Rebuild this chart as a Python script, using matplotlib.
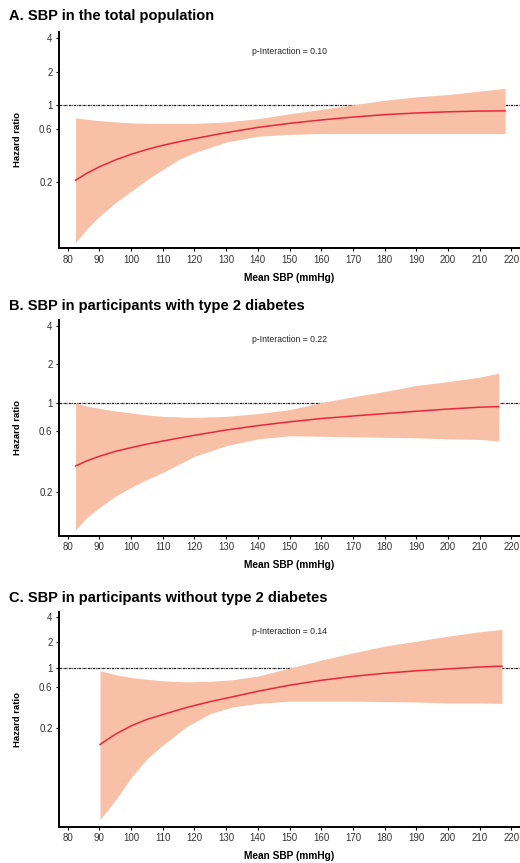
import numpy as np
import matplotlib
matplotlib.use("Agg")
import matplotlib.pyplot as plt

plt.rcParams['font.family'] = ['Liberation Sans', 'DejaVu Sans']

# panel A: total population
sbp_a = [82.5, 86, 90, 95, 100, 105, 110, 115, 120, 130, 140, 150, 160, 170, 180, 190, 200, 210, 218]
hr_a = [0.208, 0.24, 0.275, 0.317, 0.357, 0.395, 0.43, 0.463, 0.495, 0.56, 0.625, 0.68, 0.73, 0.775, 0.815, 0.844, 0.865, 0.878, 0.882]
up_a = [0.762, 0.74, 0.72, 0.70, 0.687, 0.68, 0.678, 0.678, 0.68, 0.70, 0.75, 0.83, 0.91, 1.00, 1.10, 1.18, 1.24, 1.33, 1.41]
lo_a = [0.057, 0.075, 0.098, 0.13, 0.165, 0.21, 0.26, 0.32, 0.37, 0.46, 0.52, 0.54, 0.55, 0.55, 0.55, 0.55, 0.55, 0.55, 0.55]

# panel B: with type 2 diabetes
sbp_b = [82.5, 86, 90, 95, 100, 105, 110, 120, 130, 140, 150, 160, 170, 180, 190, 200, 210, 216]
hr_b = [0.319, 0.35, 0.38, 0.415, 0.444, 0.473, 0.50, 0.555, 0.61, 0.66, 0.707, 0.75, 0.785, 0.82, 0.855, 0.89, 0.92, 0.93]
up_b = [0.995, 0.94, 0.90, 0.86, 0.83, 0.80, 0.78, 0.765, 0.78, 0.82, 0.88, 1.0, 1.11, 1.22, 1.36, 1.46, 1.58, 1.70]
lo_b = [0.101, 0.126, 0.151, 0.185, 0.217, 0.25, 0.284, 0.38, 0.46, 0.52, 0.55, 0.545, 0.54, 0.535, 0.53, 0.52, 0.515, 0.50]

# panel C: without type 2 diabetes
sbp_c = [90.2, 95, 100, 105, 110, 117.5, 125, 132, 140, 150, 160, 170, 180, 190, 200, 210, 217]
hr_c = [0.127, 0.167, 0.21, 0.25, 0.285, 0.345, 0.405, 0.46, 0.535, 0.63, 0.72, 0.80, 0.87, 0.93, 0.98, 1.03, 1.055]
up_c = [0.93, 0.84, 0.777, 0.74, 0.71, 0.69, 0.70, 0.73, 0.805, 1.0, 1.24, 1.51, 1.81, 2.07, 2.37, 2.67, 2.85]
lo_c = [0.0168, 0.028, 0.052, 0.086, 0.125, 0.205, 0.294, 0.35, 0.385, 0.41, 0.41, 0.41, 0.405, 0.40, 0.39, 0.39, 0.385]

titles = ["A. SBP in the total population",
          "B. SBP in participants with type 2 diabetes",
          "C. SBP in participants without type 2 diabetes"]
p_texts = ["p-Interaction = 0.10", "p-Interaction = 0.22", "p-Interaction = 0.14"]
y_ticks = [0.2, 0.6, 1, 2, 4]
y_ticklabels = ["0.2", "0.6", "1", "2", "4"]
x_ticks = list(range(80, 221, 10))

panels = [(sbp_a, hr_a, up_a, lo_a), (sbp_b, hr_b, up_b, lo_b), (sbp_c, hr_c, up_c, lo_c)]
ylims = [(0.0504, 4.59), (0.091, 4.43), (0.0138, 4.58)]
# axes boxes in figure fraction [left, bottom, width, height]
boxes = [[0.113, 0.7123, 0.887, 0.251],
         [0.113, 0.3793, 0.887, 0.250],
         [0.113, 0.0421, 0.887, 0.249]]
title_y = [0.9768, 0.6408, 0.3028]

fig = plt.figure(figsize=(5.2, 8.63), dpi=100)

for i, (x, hr, up, lo) in enumerate(panels):
    ax = fig.add_axes(boxes[i])
    ax.axhline(1, color='#222222', lw=0.9, ls=(0, (2, 0.6, 0.6, 0.6)), zorder=1)
    ax.fill_between(x, lo, up, color='#F8C0A6', lw=0, zorder=2)
    ax.plot(x, hr, color='#E8283A', lw=1.1, zorder=3)
    ax.set_yscale('log')
    ax.set_ylim(*ylims[i])
    ax.set_xlim(77.2, 222.7)
    ax.set_yticks(y_ticks)
    ax.set_yticklabels(y_ticklabels)
    ax.yaxis.set_minor_locator(matplotlib.ticker.NullLocator())
    ax.set_xticks(x_ticks)
    ax.tick_params(labelsize=7, colors='#333333', length=2.5, width=0.8, pad=2)
    ax.tick_params(axis='both', color='black')
    for s in ['top', 'right']:
        ax.spines[s].set_visible(False)
    for s in ['left', 'bottom']:
        ax.spines[s].set_linewidth(1.4)
    ax.set_ylabel("Hazard ratio", fontsize=6.8, fontweight='bold')
    ax.yaxis.set_label_coords(-0.080, 0.5)
    ax.set_xlabel("Mean SBP (mmHg)", fontsize=7.3, fontweight='bold')
    ax.xaxis.set_label_coords(0.5, -0.112)
    ax.text(0.5, 0.91, p_texts[i], transform=ax.transAxes, ha='center', va='center',
            fontsize=6.2, color='#222222')
    fig.text(0.017, title_y[i], titles[i], fontsize=10.5, fontweight='bold', va='baseline')

fig.savefig("out.png", dpi=100)
